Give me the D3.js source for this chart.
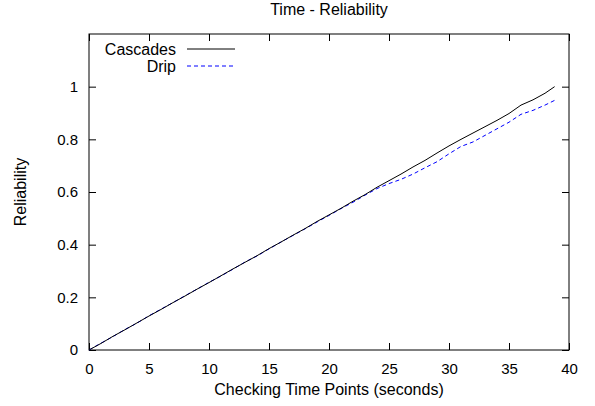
<!DOCTYPE html>
<html>
<head>
<meta charset="utf-8">
<script src="https://cdn.jsdelivr.net/npm/d3@7"></script>
<style>
  body { margin: 0; background: #fff; }
  text { font-family: "Liberation Sans", Arial, sans-serif; fill: #000; }
</style>
</head>
<body>
<div id="chart"></div>
<script>
'use strict'

// values
var timePoints = [0, 1, 2, 3, 4, 5, 6, 7, 8, 9, 10, 11, 12, 13, 14, 15, 16, 17, 18, 19,
                  20, 21, 22, 23, 24, 25, 26, 27, 28, 29, 30, 31, 32, 33, 34, 35, 36, 37, 38, 38.8];
var cascades = [0, 0.025, 0.052, 0.077, 0.103, 0.129, 0.154, 0.18, 0.205, 0.231,
                0.256, 0.282, 0.308, 0.333, 0.358, 0.385, 0.41, 0.436, 0.461, 0.488,
                0.513, 0.538, 0.565, 0.59, 0.618, 0.643, 0.668, 0.695, 0.72, 0.748,
                0.775, 0.8, 0.824, 0.848, 0.872, 0.898, 0.93, 0.95, 0.975, 1.0];
var drip = [0, 0.026, 0.051, 0.078, 0.102, 0.13, 0.155, 0.18, 0.206, 0.231,
            0.257, 0.281, 0.307, 0.334, 0.357, 0.384, 0.41, 0.435, 0.46, 0.486,
            0.511, 0.537, 0.561, 0.588, 0.613, 0.632, 0.648, 0.668, 0.692, 0.715,
            0.745, 0.773, 0.79, 0.815, 0.84, 0.865, 0.895, 0.91, 0.93, 0.948];
var xTicks = [0, 5, 10, 15, 20, 25, 30, 35, 40];
var yTicks = [0, 0.2, 0.4, 0.6, 0.8, 1];
var seriesNames = ["Cascades", "Drip"];

var svgw = 595, svgh = 406;
var margin = {top: 34, right: 26, bottom: 56, left: 89};
var width = svgw - margin.left - margin.right;
var height = svgh - margin.top - margin.bottom;

var svg = d3.select("#chart").append("svg")
    .attr("width", svgw)
    .attr("height", svgh);

var g = svg.append("g")
    .attr("transform", "translate(" + margin.left + "," + margin.top + ")");

var x = d3.scaleLinear().domain([0, 40]).range([0, width]);
var y = d3.scaleLinear().domain([0, 1.2]).range([height, 0]);

var tickLen = 7;

// bottom + top (mirror) ticks
g.append("g")
    .attr("class", "x axis")
    .attr("transform", "translate(0," + height + ")")
    .call(d3.axisBottom(x).tickValues(xTicks).tickSize(-tickLen).tickPadding(tickLen + 6).tickFormat(d3.format("d")));
g.append("g")
    .attr("class", "x axis top")
    .call(d3.axisTop(x).tickValues(xTicks).tickSize(-tickLen).tickFormat(""));

g.append("g")
    .attr("class", "y axis")
    .call(d3.axisLeft(y).tickValues(yTicks).tickSize(-tickLen).tickPadding(tickLen + 4)
        .tickFormat(function(d){ return d === 0 || d === 1 ? d3.format("d")(d) : d3.format(".1f")(d); }));
g.append("g")
    .attr("class", "y axis right")
    .attr("transform", "translate(" + width + ",0)")
    .call(d3.axisRight(y).tickValues(yTicks).tickSize(-tickLen).tickFormat(""));

g.selectAll(".axis path.domain").remove();
g.selectAll(".axis line").attr("stroke", "#000");
g.selectAll(".axis text").style("font-size", "15px")
    .style("font-family", "'Liberation Sans', Arial, sans-serif");

// frame
g.append("rect")
    .attr("width", width)
    .attr("height", height)
    .attr("fill", "none")
    .attr("stroke", "#000")
    .attr("stroke-width", 1);

var line = d3.line()
    .x(function(d){ return x(d[0]); })
    .y(function(d){ return y(d[1]); });

var cascadesData = timePoints.map(function(t, i){ return [t, cascades[i]]; });
var dripData = timePoints.map(function(t, i){ return [t, drip[i]]; });

g.append("path")
    .datum(dripData)
    .attr("d", line)
    .attr("fill", "none")
    .attr("stroke", "#0000ff")
    .attr("stroke-width", 1)
    .attr("stroke-dasharray", "4,3");

g.append("path")
    .datum(cascadesData)
    .attr("d", line)
    .attr("fill", "none")
    .attr("stroke", "#000")
    .attr("stroke-width", 1);

// legend
var legend = g.append("g").attr("transform", "translate(0,0)");
var styles = [{stroke: "#000", dash: null}, {stroke: "#0000ff", dash: "4,3"}];
seriesNames.forEach(function(name, i){
    var ly = 15 + i * 17;
    legend.append("text")
        .attr("x", 87)
        .attr("y", ly)
        .attr("dy", "0.35em")
        .attr("text-anchor", "end")
        .style("font-size", "16px")
        .text(name);
    legend.append("line")
        .attr("x1", 98).attr("x2", 146)
        .attr("y1", ly).attr("y2", ly)
        .attr("stroke", styles[i].stroke)
        .attr("stroke-width", 1)
        .attr("stroke-dasharray", styles[i].dash);
});

// titles
svg.append("text")
    .attr("x", margin.left + width / 2)
    .attr("y", 15)
    .attr("text-anchor", "middle")
    .style("font-size", "16px")
    .text("Time - Reliability");

svg.append("text")
    .attr("x", margin.left + width / 2)
    .attr("y", 395)
    .attr("text-anchor", "middle")
    .style("font-size", "16px")
    .text("Checking Time Points (seconds)");

svg.append("text")
    .attr("transform", "translate(26," + (margin.top + height / 2) + ") rotate(-90)")
    .attr("text-anchor", "middle")
    .style("font-size", "16px")
    .text("Reliability");
</script>
</body>
</html>
